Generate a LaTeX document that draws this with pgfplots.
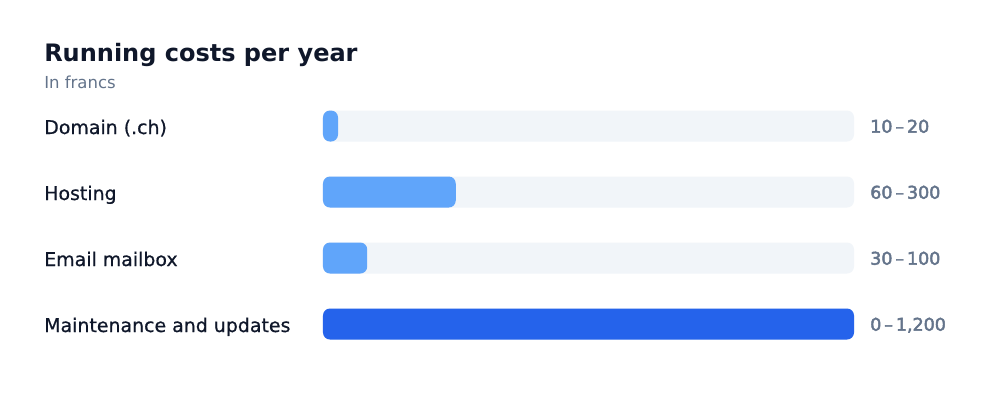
\documentclass[border=0pt]{standalone}
\usepackage{fontspec}
\setmainfont{DejaVu Sans}
\newfontfamily\medium[FakeBold=0.6]{DejaVu Sans}
\newfontfamily\semibold[FakeBold=2.6]{DejaVu Sans}
\usepackage{pgfplots}
\pgfplotsset{compat=1.18}
\definecolor{ink}{HTML}{0F172A}
\definecolor{muted}{HTML}{64748B}
\definecolor{track}{HTML}{F1F5F9}
\definecolor{light}{HTML}{60A5FA}
\definecolor{dark}{HTML}{2563EB}

\begin{document}
\begin{tikzpicture}[x=0.75pt,y=-0.75pt]
% canvas in pixels
\fill[white] (0,0) rectangle (1000,414);
\node[anchor=base west, inner sep=0pt, text=ink, font=\fontsize{18}{22}\selectfont\bfseries] at (44,61) {Running costs per year};
\node[anchor=base west, inner sep=0pt, text=muted, font=\fontsize{12.4}{15}\selectfont] at (44,88) {In francs};
\begin{axis}[
  at={(242.25pt,-267.75pt)}, anchor=south west,
  scale only axis, width=398.25pt, height=198pt,
  xmin=0, xmax=1200, ymin=-0.5, ymax=3.5, y dir=reverse,
  xbar, bar width=23.25pt,
  axis line style={draw=none}, tick style={draw=none}, major tick length=0pt,
  xtick=\empty, ytick={0,1,2,3},
  yticklabels={Domain (.ch),Hosting,Email mailbox,Maintenance and updates},
  yticklabel style={anchor=base west, inner sep=0pt, xshift=-209.25pt, yshift=-6pt,
    text=ink, font=\fontsize{14.2}{17}\medium},
  clip=false]
% background tracks, with the ranges as labels
\addplot[fill=track, draw=none, rounded corners=5.25pt, bar shift=0pt,
  point meta=explicit symbolic, nodes near coords,
  every node near coord/.append style={anchor=base west, inner sep=0pt, xshift=12pt, yshift=-5pt,
    text=muted, font=\fontsize{13.1}{16}\semibold}]
  coordinates {(1200,0) [10\,–\,20] (1200,1) [60\,–\,300] (1200,2) [30\,–\,100] (1200,3) [{0\,–\,1,200}]};
\addplot[fill=light, draw=none, rounded corners=5.25pt, bar shift=0pt]
  coordinates {(34,0) (300,1) (100,2)};
\addplot[fill=dark, draw=none, rounded corners=5.25pt, bar shift=0pt]
  coordinates {(1200,3)};
\end{axis}
\end{tikzpicture}
\end{document}
